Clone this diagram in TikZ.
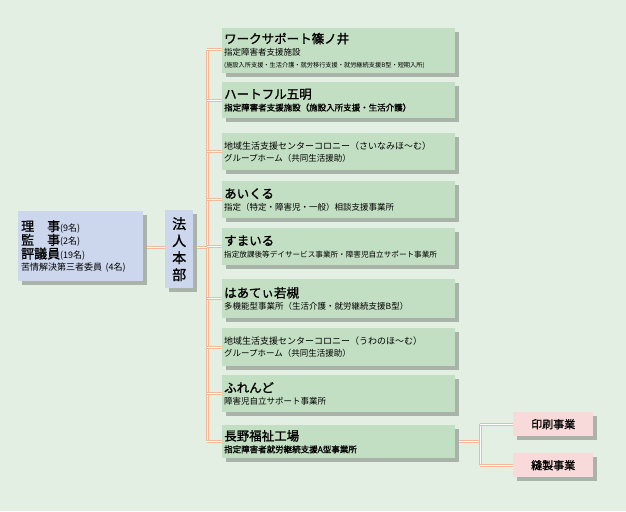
\documentclass[tikz,border=0pt]{standalone}
\usepackage{fontspec}
\newfontfamily\cjk{Noto Sans CJK JP}
\newfontfamily\cjkb[FakeBold=1.2]{Noto Sans CJK JP}
\usetikzlibrary{positioning,shadows}
\definecolor{bg}{HTML}{E2EFE2}
\definecolor{boxgreen}{HTML}{C3DFC3}
\definecolor{boxblue}{HTML}{CCD7EE}
\definecolor{boxpink}{HTML}{F9DADA}
\definecolor{shade}{HTML}{A9B3A9}
\definecolor{link}{HTML}{F5B896}

\begin{document}
\begin{tikzpicture}[x=1pt,y=-1pt,font=\cjk]
    \tikzstyle{unit}=[fill=boxgreen,anchor=north west,minimum width=233pt,text width=229pt,
        inner sep=2pt,align=left,drop shadow={fill=shade,shadow xshift=4pt,shadow yshift=-4pt,opacity=1}]
    \tikzstyle{connector}=[draw=link,double=white,double distance=1pt,line width=1pt]

    % Background
    \fill[bg] (0,0) rectangle (626,511);
    \useasboundingbox (0,0) rectangle (626,511);

    % Connectors
    \coordinate (top) at (207,50);
    \coordinate (bottom) at (207,441);
    \draw[style=connector] (top) -- (bottom);
    \foreach \y in {50,100,151,199,246,298,347,393,441}
        \draw[style=connector] (207,\y) -- (222,\y);
    \draw[style=connector] (143,247) -- (207,247);
    \draw[style=connector] (455,441) -- (480,441);
    \draw[style=connector] (480,424) -- (480,465);
    \draw[style=connector] (480,424) -- (513,424);
    \draw[style=connector] (480,465) -- (513,465);

    % Board and headquarters
    \node[unit,fill=boxblue,minimum width=125pt,text width=119pt,inner xsep=3pt,minimum height=70pt] (board) at (18,211)
        {{\cjkb\fontsize{13}{14}\selectfont 理\hspace{1em}事}{\fontsize{9}{10}\selectfont (9名)}\\
         {\cjkb\fontsize{13}{14}\selectfont 監\hspace{1em}事}{\fontsize{9}{10}\selectfont (2名)}\\
         {\cjkb\fontsize{13}{14}\selectfont 評議員}{\fontsize{9}{10}\selectfont (19名)}\\
         {\fontsize{9}{13}\selectfont 苦情解決第三者委員 (4名)}};
    \node[unit,fill=boxblue,minimum width=28pt,text width=,align=center,minimum height=78pt,
        font=\cjkb\fontsize{14}{17}\selectfont] (hq) at (165,210) {法\\人\\本\\部};

    % Facilities
    \node[unit,minimum height=45pt] (work) at (222,28)
        {{\cjkb\fontsize{12.5}{14}\selectfont ワークサポート篠ノ井}\\{\fontsize{8.5}{10}\selectfont 指定障害者支援施設}\\
         {\fontsize{6.2}{9}\selectfont (施設入所支援・生活介護・就労移行支援・就労継続支援B型・短期入所)}};
    \node[unit,minimum height=36pt] (heart) at (222,82)
        {{\cjkb\fontsize{12.5}{14}\selectfont ハートフル五明}\\{\cjkb\fontsize{8.5}{11}\selectfont 指定障害者支援施設（施設入所支援・生活介護）}};
    \node[unit,minimum height=37pt] (colony1) at (222,133)
        {{\fontsize{9}{12}\selectfont 地域生活支援センターコロニー（さいなみほ〜む）}\\{\fontsize{8.5}{11}\selectfont グループホーム（共同生活援助）}};
    \node[unit,minimum height=37pt] (aikuru) at (222,181)
        {{\cjkb\fontsize{12.5}{14}\selectfont あいくる}\\{\fontsize{8.5}{11}\selectfont 指定（特定・障害児・一般）相談支援事業所}};
    \node[unit,minimum height=37pt] (sumairu) at (222,228)
        {{\cjkb\fontsize{12.5}{14}\selectfont すまいる}\\{\fontsize{7.6}{11}\selectfont 指定放課後等デイサービス事業所・障害児自立サポート事業所}};
    \node[unit,minimum height=39pt] (wakatsuki) at (222,279)
        {{\cjkb\fontsize{12.5}{14}\selectfont はあてぃ若槻}\\{\fontsize{8.5}{11}\selectfont 多機能型事業所（生活介護・就労継続支援B型）}};
    \node[unit,minimum height=38pt] (colony2) at (222,328)
        {{\fontsize{9}{12}\selectfont 地域生活支援センターコロニー（うわのほ〜む）}\\{\fontsize{8.5}{11}\selectfont グループホーム（共同生活援助）}};
    \node[unit,minimum height=37pt] (friend) at (222,375)
        {{\cjkb\fontsize{12.5}{14}\selectfont ふれんど}\\{\fontsize{8.5}{11}\selectfont 障害児自立サポート事業所}};
    \node[unit,minimum height=33pt] (nagano) at (222,425)
        {{\cjkb\fontsize{12.5}{14}\selectfont 長野福祉工場}\\{\cjkb\fontsize{8.5}{11}\selectfont 指定障害者就労継続支援A型事業所}};

    % Works
    \node[unit,fill=boxpink,minimum width=80pt,text width=,align=center,minimum height=24pt,
        font=\cjkb\fontsize{11}{12}\selectfont] (print) at (513,412) {印刷事業};
    \node[unit,fill=boxpink,minimum width=80pt,text width=,align=center,minimum height=24pt,
        font=\cjkb\fontsize{11}{12}\selectfont] (sew) at (513,453) {縫製事業};
\end{tikzpicture}
\end{document}
